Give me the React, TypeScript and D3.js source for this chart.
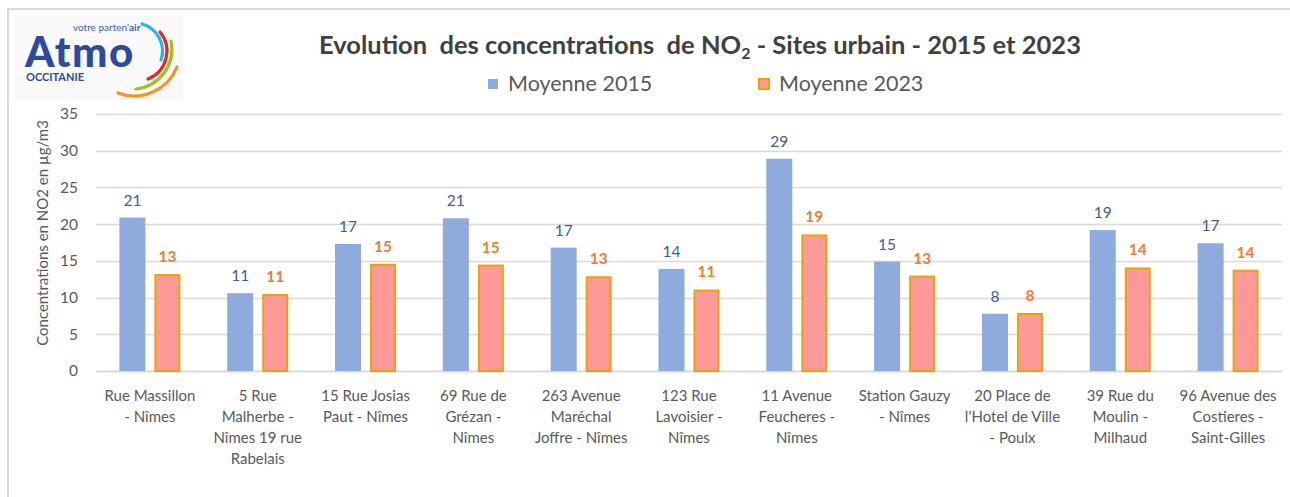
import React, { useEffect, useRef } from "react";
import * as d3 from "d3";

// category labels, already wrapped the way the chart wraps them
const categories: string[][] = [
  ["Rue Massillon", "- Nîmes"],
  ["5 Rue", "Malherbe -", "Nîmes 19 rue", "Rabelais"],
  ["15 Rue Josias", "Paut - Nîmes"],
  ["69 Rue de", "Grézan -", "Nîmes"],
  ["263 Avenue", "Maréchal", "Joffre - Nîmes"],
  ["123 Rue", "Lavoisier -", "Nîmes"],
  ["11 Avenue", "Feucheres -", "Nîmes"],
  ["Station Gauzy", "- Nîmes"],
  ["20 Place de", "l'Hotel de Ville", "- Poulx"],
  ["39 Rue du", "Moulin -", "Milhaud"],
  ["96 Avenue des", "Costieres -", "Saint-Gilles"],
];

const moyenne2015 = [20.9, 10.6, 17.3, 20.8, 16.8, 13.9, 28.9, 14.9, 7.8, 19.2, 17.4];
const moyenne2023 = [13.2, 10.5, 14.6, 14.5, 12.9, 11.1, 18.6, 13.0, 7.9, 14.1, 13.8];

const seriesNames = ["Moyenne 2015", "Moyenne 2023"];
const yTicks = [0, 5, 10, 15, 20, 25, 30, 35];

const title = "Evolution  des concentrations  de NO";
const titleEnd = " - Sites urbain - 2015 et 2023";
const yAxisTitle = "Concentrations en NO2 en µg/m3";

const FONT = "Lato, 'Liberation Sans', sans-serif";

const App: React.FC = () => {
  const svgRef = useRef<SVGSVGElement>(null);

  useEffect(() => {
    const width = 1290;
    const height = 497;
    const left = 96;
    const right = 1282;
    const top = 114;
    const bottom = 371;

    const svg = d3.select(svgRef.current);
    svg.selectAll("*").remove();
    svg.attr("width", width).attr("height", height);

    svg.append("rect").attr("width", width).attr("height", height).attr("fill", "#fff");

    // outer frame (only left and top edges are visible)
    svg
      .append("path")
      .attr("d", `M8,${height} L8,9 L${width},9`)
      .attr("fill", "none")
      .attr("stroke", "#d9d9d9")
      .attr("stroke-width", 2);

    // logo
    const logo = svg.append("g");
    logo
      .append("rect")
      .attr("x", 15)
      .attr("y", 15)
      .attr("width", 168)
      .attr("height", 85)
      .attr("fill", "#f9f9f9");
    logo
      .append("text")
      .attr("x", 25)
      .attr("y", 67)
      .attr("font-family", FONT)
      .attr("font-weight", 900)
      .attr("font-size", 42)
      .attr("letter-spacing", 1.5)
      .attr("fill", "#2d4a9c")
      .text("Atmo");
    const tag = logo
      .append("text")
      .attr("x", 73)
      .attr("y", 31)
      .attr("font-family", FONT)
      .attr("font-size", 10)
      .attr("fill", "#4461ae");
    tag.append("tspan").text("votre parten'");
    tag.append("tspan").attr("font-weight", 700).text("air");
    logo
      .append("text")
      .attr("x", 26)
      .attr("y", 81)
      .attr("font-family", FONT)
      .attr("font-weight", 700)
      .attr("font-size", 11)
      .attr("fill", "#2d4a9c")
      .text("OCCITANIE");
    const arcs = [
      { d: "M142,24 A28,28 0 0 1 161,60", c: "#29b6e8" },
      { d: "M160,32 A30,30 0 0 1 148,79", c: "#e3262d" },
      { d: "M171,41 A40,40 0 0 1 136,89", c: "#9dc21d" },
      { d: "M177,67 A46,46 0 0 1 118,93", c: "#f39322" },
    ];
    logo
      .selectAll(".arc")
      .data(arcs)
      .enter()
      .append("path")
      .attr("d", (d) => d.d)
      .attr("fill", "none")
      .attr("stroke", (d) => d.c)
      .attr("stroke-width", 3.2)
      .attr("stroke-linecap", "round");

    // title
    const t = svg
      .append("text")
      .attr("x", 700)
      .attr("y", 54)
      .attr("text-anchor", "middle")
      .attr("font-family", FONT)
      .attr("font-weight", 700)
      .attr("font-size", 25.5)
      .attr("fill", "#404040")
      .style("white-space", "pre");
    t.append("tspan").text(title);
    t.append("tspan").attr("font-size", 16).attr("dy", 5).text("2");
    t.append("tspan").attr("dy", -5).text(titleEnd);

    // legend
    const legend = [
      { x: 487, fill: "#8faadc", stroke: "none" },
      { x: 758, fill: "#ff9999", stroke: "#e5a50a" },
    ];
    legend.forEach((l, i) => {
      svg
        .append("rect")
        .attr("x", l.x + 1)
        .attr("y", 79)
        .attr("width", 10)
        .attr("height", 10)
        .attr("fill", l.fill)
        .attr("stroke", l.stroke)
        .attr("stroke-width", 2);
      svg
        .append("text")
        .attr("x", l.x + 21)
        .attr("y", 91)
        .attr("font-family", FONT)
        .attr("font-size", 21.5)
        .attr("fill", "#595959")
        .text(seriesNames[i]);
    });

    const names = categories.map((c) => c.join(" "));
    const x0 = d3
      .scaleBand<string>()
      .domain(names)
      .range([left, right])
      .paddingInner(0.434)
      .paddingOuter(0.217);
    const x1 = d3
      .scaleBand<string>()
      .domain(seriesNames)
      .range([0, x0.bandwidth()])
      .paddingInner(0.257);
    const y = d3.scaleLinear().domain([0, 35]).range([bottom, top]);

    // gridlines
    svg
      .selectAll(".grid")
      .data(yTicks)
      .enter()
      .append("line")
      .attr("x1", left)
      .attr("x2", right)
      .attr("y1", (d) => Math.round(y(d)) + 0.5)
      .attr("y2", (d) => Math.round(y(d)) + 0.5)
      .attr("stroke", "#d9d9d9")
      .attr("stroke-width", (d) => (d === 0 ? 2 : 1.3));

    // y axis
    const yAxis = svg
      .append("g")
      .attr("transform", `translate(${left},0)`)
      .call(d3.axisLeft(y).tickValues(yTicks).tickSize(0).tickPadding(18));
    yAxis.select(".domain").remove();
    yAxis
      .selectAll("text")
      .attr("font-family", FONT)
      .attr("font-size", 15.5)
      .attr("fill", "#595959");

    svg
      .append("text")
      .attr("transform", `translate(48,233) rotate(-90)`)
      .attr("text-anchor", "middle")
      .attr("font-family", FONT)
      .attr("font-size", 15)
      .attr("fill", "#595959")
      .text(yAxisTitle);

    // bars
    const groups = svg
      .selectAll(".cat")
      .data(names)
      .enter()
      .append("g")
      .attr("transform", (d) => `translate(${x0(d)},0)`);

    const bw = x1.bandwidth();
    groups
      .append("rect")
      .attr("x", x1(seriesNames[0])!)
      .attr("y", (_, i) => y(moyenne2015[i]))
      .attr("width", bw)
      .attr("height", (_, i) => y(0) - y(moyenne2015[i]))
      .attr("fill", "#8faadc");

    groups
      .append("rect")
      .attr("x", x1(seriesNames[1])! + 1)
      .attr("y", (_, i) => y(moyenne2023[i]) + 1)
      .attr("width", bw - 2)
      .attr("height", (_, i) => y(0) - y(moyenne2023[i]) - 1)
      .attr("fill", "#ff9999")
      .attr("stroke", "#e5a50a")
      .attr("stroke-width", 2);

    // value labels
    groups
      .append("text")
      .attr("x", x1(seriesNames[0])! + bw / 2)
      .attr("y", (_, i) => y(moyenne2015[i]) - 12)
      .attr("text-anchor", "middle")
      .attr("font-family", FONT)
      .attr("font-size", 15.5)
      .attr("fill", "#3f5a9a")
      .text((_, i) => Math.round(moyenne2015[i]));

    groups
      .append("text")
      .attr("x", x1(seriesNames[1])! + bw / 2)
      .attr("y", (_, i) => y(moyenne2023[i]) - 12)
      .attr("text-anchor", "middle")
      .attr("font-family", FONT)
      .attr("font-weight", 700)
      .attr("font-size", 15.5)
      .attr("fill", "#ed7d31")
      .text((_, i) => Math.round(moyenne2023[i]));

    // category labels
    const labels = groups
      .append("text")
      .attr("text-anchor", "middle")
      .attr("font-family", FONT)
      .attr("font-size", 15)
      .attr("fill", "#595959");
    labels
      .selectAll("tspan")
      .data((_, i) => categories[i])
      .enter()
      .append("tspan")
      .attr("x", x0.bandwidth() / 2)
      .attr("y", (_, j) => 401 + j * 21)
      .text((d) => d);
  }, []);

  return (
    <div style={{ position: "absolute", left: 0, top: 0 }}>
      <svg ref={svgRef} style={{ display: "block" }}></svg>
    </div>
  );
};

export default App;
